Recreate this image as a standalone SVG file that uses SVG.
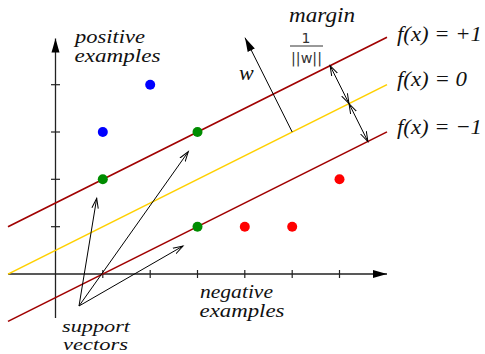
<svg xmlns="http://www.w3.org/2000/svg" width="485" height="354" viewBox="0 0 485 354">
<style>
.axis{stroke:#222;stroke-width:1.3;fill:none}
.tick{stroke:#222;stroke-width:1.2}
.marg{stroke:#a00000;stroke-width:1.6;fill:none}
.hyp{stroke:#ffd000;stroke-width:1.6;fill:none}
.thin{stroke:#000;stroke-width:1;fill:none}
.lbl{font-style:italic;fill:#111}
.sans{fill:#333}
.pos{fill:#0000ff}.sv{fill:#008c00}.neg{fill:#ff0000}
</style>
<defs>
<marker id="fill" markerUnits="userSpaceOnUse" markerWidth="16" markerHeight="10" refX="14" refY="4.5" orient="auto" viewBox="0 0 16 9">
<path d="M0,0.5 L14,4.5 L0,8.5 Z" fill="#000"/>
</marker>
<marker id="open" markerUnits="userSpaceOnUse" markerWidth="12" markerHeight="10" refX="10" refY="4" orient="auto-start-reverse" viewBox="0 0 12 8">
<path d="M0,0.8 L10,4 L0,7.2" fill="none" stroke="#000" stroke-width="1"/>
</marker>
</defs>
<g id="axes">
<line class="axis" x1="55.5" y1="318" x2="55.5" y2="38.5" marker-end="url(#fill)"/>
<line class="axis" x1="8" y1="274" x2="387" y2="274" marker-end="url(#fill)"/>
<g class="tick">
<line x1="51" y1="226.7" x2="60" y2="226.7"/>
<line x1="51" y1="179.3" x2="60" y2="179.3"/>
<line x1="51" y1="132" x2="60" y2="132"/>
<line x1="51" y1="84.7" x2="60" y2="84.7"/>
<line x1="102.8" y1="270" x2="102.8" y2="278"/>
<line x1="150.2" y1="270" x2="150.2" y2="278"/>
<line x1="197.5" y1="270" x2="197.5" y2="278"/>
<line x1="244.8" y1="270" x2="244.8" y2="278"/>
<line x1="292.2" y1="270" x2="292.2" y2="278"/>
<line x1="339.5" y1="270" x2="339.5" y2="278"/>
</g>
</g>
<g id="lines">
<line id="upper" class="marg" x1="8" y1="226.75" x2="387" y2="37.25"/>
<line id="hyperplane" class="hyp" x1="8" y1="274.1" x2="387" y2="84.6"/>
<line id="lower" class="marg" x1="8" y1="321.4" x2="387" y2="131.9"/>
</g>
<g id="points">
<circle class="pos" cx="150.2" cy="84.7" r="5"/>
<circle class="pos" cx="102.8" cy="132" r="5"/>
<circle class="sv" cx="102.8" cy="179.3" r="5"/>
<circle class="sv" cx="197.5" cy="132" r="5"/>
<circle class="sv" cx="197.5" cy="226.7" r="5"/>
<circle class="neg" cx="244.8" cy="226.7" r="5"/>
<circle class="neg" cx="292.2" cy="226.7" r="5"/>
<circle class="neg" cx="339.5" cy="179.3" r="5"/>
</g>
<g id="connectors">
<line class="thin" x1="292.2" y1="132" x2="245" y2="37.7" marker-end="url(#fill)"/>
<line class="thin" x1="330.1" y1="65.7" x2="349" y2="103.6" marker-start="url(#open)" marker-end="url(#open)"/>
<line class="thin" x1="349" y1="103.6" x2="367.9" y2="141.5" marker-start="url(#open)" marker-end="url(#open)"/>
<line class="thin" x1="79" y1="306" x2="96.7" y2="198.3" marker-end="url(#open)"/>
<line class="thin" x1="79" y1="306" x2="188.3" y2="151.7" marker-end="url(#open)"/>
<line class="thin" x1="79" y1="306" x2="183" y2="246" marker-end="url(#open)"/>
</g>
<g id="labels" font-family="'Liberation Serif', 'Times New Roman', serif" font-size="19">
<text class="lbl" x="75" y="42.5" textLength="70" lengthAdjust="spacingAndGlyphs">positive</text>
<text class="lbl" x="74.5" y="61.7" textLength="86" lengthAdjust="spacingAndGlyphs">examples</text>
<text class="lbl" x="200" y="298" textLength="73" lengthAdjust="spacingAndGlyphs">negative</text>
<text class="lbl" x="199.5" y="317" textLength="85" lengthAdjust="spacingAndGlyphs">examples</text>
<text class="lbl" x="62" y="332" font-size="17" textLength="68" lengthAdjust="spacingAndGlyphs">support</text>
<text class="lbl" x="63" y="350" font-size="17" textLength="65" lengthAdjust="spacingAndGlyphs">vectors</text>
<text class="lbl" x="239" y="80" font-size="22">w</text>
<text class="lbl" x="289" y="21.5" textLength="66" lengthAdjust="spacingAndGlyphs" font-size="21">margin</text>
<text class="sans" x="306" y="43" font-size="14" text-anchor="middle" font-family="'DejaVu Sans', sans-serif">1</text>
<line x1="290" y1="46" x2="323" y2="46" stroke="#333" stroke-width="1"/>
<text class="sans" x="291" y="62.5" font-size="14" font-family="'DejaVu Sans', sans-serif" textLength="31" lengthAdjust="spacingAndGlyphs">||w||</text>
<text class="lbl" x="397" y="40.5" font-size="22" textLength="85" lengthAdjust="spacingAndGlyphs">f(x) = +1</text>
<text class="lbl" x="397" y="86" font-size="22" textLength="70" lengthAdjust="spacingAndGlyphs">f(x) = 0</text>
<text class="lbl" x="397" y="134" font-size="22" textLength="85" lengthAdjust="spacingAndGlyphs">f(x) = −1</text>
</g>
</svg>
